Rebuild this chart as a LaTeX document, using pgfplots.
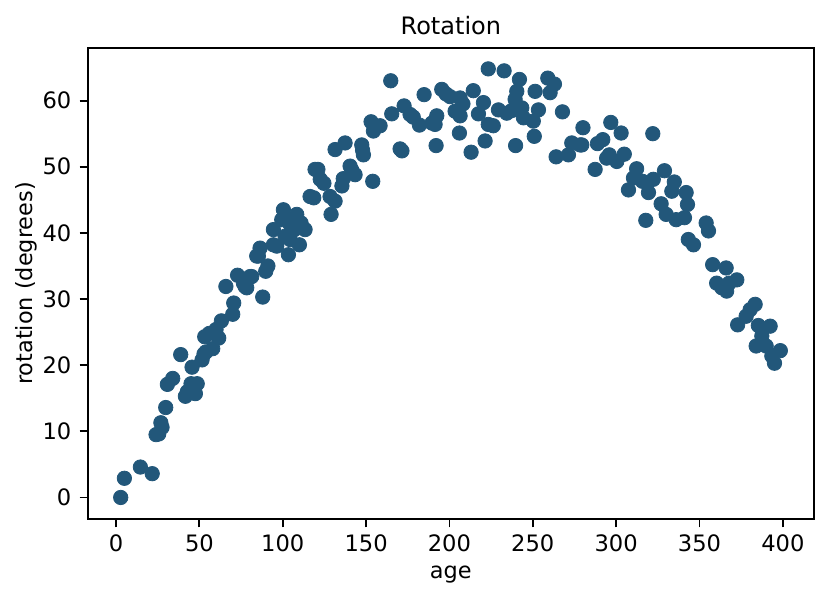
\documentclass[border=0pt]{standalone}
\usepackage{pgfplots}
\pgfplotsset{compat=1.18}
\usepackage{pgfplotstable}
\usepackage{fontspec}
\setmainfont{DejaVu Sans}
\definecolor{pt}{RGB}{34,87,122}
\pgfplotstableread{
x y
2.8 0.0
5.0 2.9
14.6 4.6
21.7 3.6
24.0 9.5
25.6 9.6
26.9 11.3
27.6 10.6
29.8 13.6
30.8 17.1
34.0 18.0
38.8 21.6
41.6 15.3
42.8 16.0
45.0 17.2
45.6 19.7
47.6 15.7
48.7 17.2
51.6 20.8
52.8 21.7
53.9 22.0
53.2 24.3
55.9 24.8
58.0 22.5
60.0 25.4
61.6 24.1
63.2 26.7
65.9 31.9
70.0 27.7
70.6 29.4
72.9 33.6
76.4 32.4
77.4 31.9
78.4 31.7
80.4 33.4
81.4 33.4
84.4 36.5
85.4 36.5
86.4 37.7
88.0 30.3
89.8 34.2
91.1 35.0
94.4 38.2
94.4 40.5
96.4 38.0
99.4 42.0
100.4 43.5
101.4 39.5
103.4 36.7
104.4 41.3
104.4 39.0
106.0 42.0
108.4 42.8
107.0 40.5
110.0 38.2
113.4 40.5
111.0 41.5
116.4 45.5
118.6 45.3
119.4 49.6
121.1 49.6
122.5 48.1
124.7 47.5
128.4 45.5
129.0 42.8
131.4 44.8
131.4 52.6
135.5 47.1
136.3 48.2
137.4 53.6
140.4 50.1
141.4 49.5
143.4 48.8
147.4 53.3
148.4 51.8
147.9 52.5
154.0 47.8
154.4 55.4
155.4 56.2
158.4 56.2
153.0 56.8
164.8 63.0
165.4 58.0
170.4 52.7
171.5 52.4
172.8 59.2
176.4 57.9
178.3 57.5
182.0 56.3
184.8 60.9
189.5 56.6
191.4 56.4
192.4 57.7
192.0 53.2
195.4 61.7
198.0 61.0
200.4 60.6
203.4 58.4
206.4 60.4
206.4 57.7
206.0 55.1
208.1 59.5
213.0 52.2
214.3 61.5
217.4 58.0
220.4 59.7
221.4 53.9
223.3 56.4
223.3 64.8
226.3 56.2
229.4 58.6
232.8 64.5
234.4 58.1
237.4 58.5
239.4 60.2
240.4 61.4
239.7 53.2
242.0 63.2
243.4 58.9
244.4 57.4
250.3 56.9
250.9 54.6
251.4 61.4
253.4 58.6
259.0 63.4
260.4 61.2
263.0 62.5
264.0 51.5
267.8 58.3
271.4 51.8
273.4 53.6
278.4 53.3
279.4 53.3
280.1 55.9
287.4 49.6
288.8 53.5
292.0 54.1
294.3 51.3
295.9 51.8
296.8 56.7
300.4 50.8
303.0 55.1
304.9 51.9
307.4 46.5
310.4 48.3
312.3 49.7
315.8 47.8
319.4 46.1
317.8 41.9
322.0 55.0
322.3 48.1
327.0 44.4
329.0 49.4
330.0 42.8
333.4 46.3
334.9 47.7
336.0 42.0
341.0 42.3
342.0 46.1
342.8 44.3
343.3 39.0
346.4 38.2
354.0 41.5
355.4 40.3
357.9 35.2
360.3 32.4
363.4 31.7
366.3 31.2
366.0 34.7
367.8 32.4
372.4 32.9
372.9 26.1
378.0 27.4
380.4 28.4
383.4 29.2
385.3 26.0
387.4 24.4
384.0 22.9
390.0 22.9
392.4 25.9
393.4 21.4
395.0 20.3
398.5 22.2
}\datatable
\begin{document}
\begin{tikzpicture}[x=1pt,y=1pt]
\path[use as bounding box] (-43.85,-40.85) rectangle (371.15,259.65);
\begin{axis}[
  at={(0,0)}, anchor=south west,
  scale only axis, width=363.15pt, height=235.8pt,
  xmin=-17, xmax=418.7, ymin=-3.3, ymax=68,
  xtick={0,50,...,400}, ytick={0,10,...,60},
  tick pos=left, tick align=outside, major tick length=4pt,
  every tick/.style={black, line width=0.9pt},
  axis line style={line width=0.9pt},
  /pgf/number format/assume math mode=true,
  ticklabel style={font=\fontsize{11.3}{13}\selectfont},
  xticklabel style={anchor=base, inner sep=0pt, yshift=-12.2pt},
  yticklabel style={anchor=east, inner sep=0pt, xshift=-4pt},
  every axis title/.style={at={(axis description cs:0.5,1)}, anchor=base, inner sep=0pt, yshift=6.35pt, font=\fontsize{12}{14}\selectfont},
  every axis x label/.style={at={(axis description cs:0.5,0)}, anchor=base, inner sep=0pt, yshift=-29.8pt, font=\fontsize{11.2}{13}\selectfont},
  every axis y label/.style={at={(axis description cs:0,0.5)}, xshift=-27.7pt, rotate=90, anchor=base, inner sep=0pt, font=\fontsize{11.2}{13}\selectfont},
  title={Rotation},
  xlabel={age},
  ylabel={rotation (degrees)},
]
\addplot[only marks, mark=*, mark size=3.6pt, mark options={fill=pt, draw=pt, line width=0.4pt}] table[x=x,y=y] {\datatable};
\end{axis}
\end{tikzpicture}
\end{document}
